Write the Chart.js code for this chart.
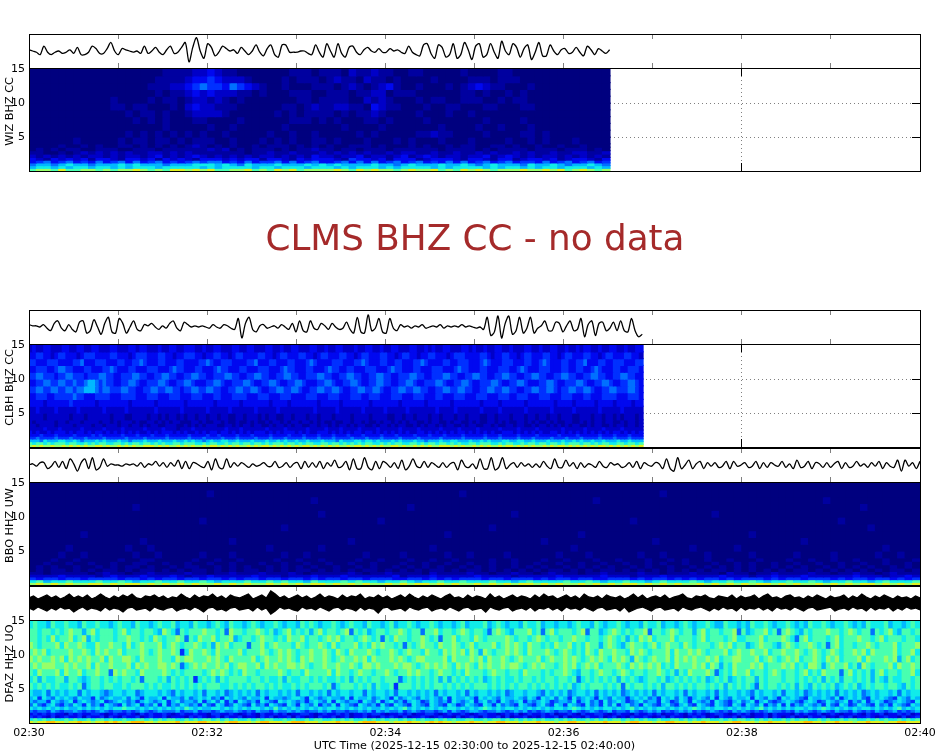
<!DOCTYPE html>
<html>
<head>
<meta charset="utf-8">
<title>Spectrograms</title>
<script src="https://cdn.jsdelivr.net/npm/chart.js@4/dist/chart.umd.min.js"></script>
<style>
html, body { margin: 0; padding: 0; background: #fff; overflow: hidden; }
#page { position: relative; width: 950px; height: 756px; }
canvas { position: absolute; left: 0; }
</style>
</head>
<body>
<div id="page"></div>
<script>
const tickLabels = ['02:30', '02:32', '02:34', '02:36', '02:38', '02:40'];
const xLabel = 'UTC Time (2025-12-15 02:30:00 to 2025-12-15 02:40:00)';
const noDataLabel = 'CLMS BHZ CC - no data';

// frequency bin edges, top row first
const freqEdges = [15.15, 14, 13, 12, 11, 10, 9, 8, 7, 6, 5, 4, 3.5, 3, 2.5, 2, 1.6, 1.2, 0.8, 0.4, 0];
// power level 0..b -> jet colour
const levelColors = ['#00007f', '#0000a0', '#0000c8', '#0008f0', '#0030ff', '#0070ff', '#00b8ff', '#10ecea', '#48ffb0', '#98ff68', '#e0f020', '#ffc000'];

const wizWave = [1,0,-1,-3,4,-1,-3,-1,0,-2,-1,1,-2,3,-3,-3,-1,4,2,-2,-2,2,7,0,-3,2,1,0,-1,0,-2,4,-2,0,3,-1,-3,1,4,-2,-1,3,7,-9,3,11,0,-6,6,3,-4,-1,4,2,0,1,-2,3,0,-3,0,5,-1,-4,2,5,-3,-5,5,5,-1,-1,-1,0,0,-2,-3,5,-1,-5,6,0,-5,6,-2,-5,3,4,-1,-3,1,3,0,-1,2,-1,-1,2,0,1,-1,-2,4,-1,-3,-4,5,6,-2,-6,5,3,-5,-3,6,-6,-3,7,1,-7,4,6,-5,-3,6,-1,-6,8,0,-3,6,3,-5,2,5,-7,-1,7,-4,-4,5,0,-3,1,2,-2,-1,3,-1,-4,4,1,-3,2,0,-2,1];
const clbhWave = [2,1,1,0,2,-1,-3,3,5,-1,-3,2,-2,-4,4,5,-5,-3,6,0,-6,3,8,-4,-5,7,3,-5,0,5,-2,-3,2,1,3,0,-2,1,-1,3,5,-1,-3,4,2,0,1,0,1,0,-1,2,0,-1,2,1,-1,-2,7,-9,3,8,-2,-4,1,2,-1,0,1,-1,2,0,-2,3,-4,5,-3,-4,5,-1,-2,3,1,-2,3,0,-2,-1,4,-2,-5,8,-4,-5,10,-3,-1,7,-4,-5,7,-1,-3,2,0,1,-1,1,0,2,-1,0,1,0,2,-1,1,0,1,0,2,0,1,0,-1,0,-2,8,-7,-4,9,-9,3,9,-6,-3,8,-5,-1,8,-5,-1,1,5,-3,-3,4,3,-4,1,5,-3,-2,7,-8,2,5,-7,3,4,-3,-1,4,-3,5,-3,-4,7,-3,-8,-6];
const bboWave = [0,1,-1,2,2,-3,-1,3,-2,3,-3,5,1,-5,2,5,-3,6,-4,-2,5,-1,1,0,0,-1,1,0,1,-1,2,-2,1,0,3,-1,2,-2,2,-1,4,-3,3,-3,2,1,-1,-2,3,-4,5,-2,-3,5,-2,2,-1,2,0,-2,1,-1,0,2,-1,-1,3,-2,-1,2,-2,1,2,-3,3,-2,2,-2,3,-3,2,-1,4,-2,-1,3,-4,5,-3,-3,6,-2,-4,3,-3,3,1,-2,2,-3,4,-4,-1,5,-1,-2,3,-2,2,0,-2,2,-2,1,2,-4,4,-1,-2,1,-3,5,-3,-3,6,-4,-2,6,-3,0,2,-2,2,-1,1,-2,1,-2,3,-1,-3,5,-2,-2,4,-1,2,-3,2,-2,1,0,-2,3,-1,-2,2,0,1,-2,-1,2,-2,3,-3,2,0,-1,2,1,-3,5,-3,-5,6,-3,0,4,-3,1,3,-3,2,-1,2,-2,-1,3,-3,3,-1,0,2,-2,-1,3,-3,2,-2,2,0,-1,3,-2,1,-3,4,-2,-1,3,-3,2,1,-2,2,-2,1,3,-3,2,-2,-1,3,-1,1,-2,2,-1,3,-3,2,-1,-2,4,-5,4,-1,2,-3,3];
const dfazUpper = [5,7,4,6,8,5,7,4,6,9,5,7,5,8,4,6,9,6,4,7,5,8,6,9,5,4,7,6,8,5,7,4,6,5,9,6,4,8,5,7,6,9,5,7,4,8,6,5,7,9,4,6,8,5,12,9,5,7,4,6,8,5,7,4,6,9,5,7,6,4,8,5,7,6,9,4,6,5,8,5,7,4,6,8,5,9,6,4,7,5,8,6,4,7,9,5,6,4,8,5,7,6,4,9,5,7,4,6,8,5,7,6,4,8,5,9,6,7,4,6,8,5,7,4,9,6,5,7,4,8,6,5,7,4,6,9,5,8,4,6,7,5,8,4,6,7,9,5,4,7,6,8,5,4,7,6,5,8,4,7,5,6,8,4,7,9,5,6,4,7,8,5,6,4,7,5,8,6,4,7,5,6,8,4,7,5,9,6,4,7,5,8,6,4,7,5,6,4,7,5];
const dfazLower = [-5,-7,-4,-6,-8,-5,-7,-4,-6,-5,-9,-6,-4,-7,-5,-6,-8,-4,-7,-5,-6,-9,-5,-4,-7,-6,-5,-8,-4,-6,-7,-5,-4,-8,-6,-5,-7,-4,-6,-9,-5,-4,-7,-6,-8,-5,-4,-7,-6,-5,-8,-4,-7,-5,-11,-8,-4,-6,-5,-7,-8,-4,-6,-5,-7,-4,-6,-8,-5,-4,-7,-5,-6,-8,-4,-7,-5,-6,-10,-5,-4,-7,-6,-5,-8,-4,-6,-7,-5,-4,-8,-6,-5,-7,-4,-6,-8,-5,-4,-7,-6,-5,-9,-4,-6,-7,-5,-4,-8,-6,-5,-7,-4,-8,-5,-6,-4,-7,-5,-8,-4,-6,-5,-7,-4,-6,-8,-5,-4,-7,-6,-5,-8,-4,-9,-7,-5,-4,-6,-8,-5,-4,-7,-6,-5,-8,-4,-6,-7,-5,-4,-6,-8,-5,-7,-4,-6,-5,-8,-4,-7,-5,-6,-4,-7,-5,-8,-4,-6,-5,-7,-4,-6,-8,-5,-4,-7,-6,-5,-4,-8,-6,-5,-7,-4,-6,-5,-8,-4,-7,-5,-6,-4,-8,-5,-7,-4,-6,-5,-7];

const wizRows = [
  '0000000000 0000000011 1122321100 0000011101 1102112110 0110000010 0001100000 00000000',
  '0000000000 0000000111 1233432221 0000101110 1211021101 0000100001 1101110000 00000000',
  '0000000000 0000001112 2345443543 2100100011 1012101231 0010001012 3211000100 00000000',
  '0000000000 0000000101 1232322211 0100011100 1110112201 1100000011 0100101000 00000000',
  '0000000000 0100001011 0122121010 0000001101 1110021210 0010110011 1001011000 00000000',
  '0000000000 0110110001 0232211100 0000110121 1221103211 0001001100 0110001100 00000000',
  '0000000000 0001011010 0122221000 0001010111 1010112100 0010001001 0000000000 00000000',
  '0000000000 0000101010 0011000010 0000011101 0100011010 0001000000 0100001000 00000000',
  '0000000000 0000000010 0000100100 0000100000 0010000100 0000010000 1001000100 00000000',
  '0000000000 0001010101 0101001000 0010010010 0000101000 0011211000 0100001101 00000000',
  '0000001000 0010110110 1011100100 0101010011 0100010001 0100010001 0000100101 00010000',
  '0000100101 0011010101 0121010100 1011101010 1001110100 0101001011 0011010010 01001000',
  '0101011001 1100111011 1111212010 1110101121 1011011101 1111101111 0101111011 10111010',
  '1100101212 1212112212 1211111110 1121121112 1212121121 2211211211 2121121211 21122112',
  '2121212122 1212212312 1232121212 1221212132 2122312212 3123212212 2312321212 21212121',
  '3213232313 3213323132 3213332323 3133213233 3214332313 3312333213 3213312332 31233213',
  '3453453435 3453534534 3454553435 3445353453 3453535345 3453435353 4534534435 34534534',
  '5665676656 6676766656 6677767657 6667666767 6766667665 6766676676 5676665766 76566765',
  '6776767767 7676777677 7776767777 6776777677 7676777676 7777676777 7676776767 76777676',
  '8998a88998 9899a9898a a9a9a8899a 898a9a8999 9a98a9a998 9a99a898a9 a98999a99a 9a89a989'
];
const clbhRows = [
  '2322332223 3223322332 2233222332 3322232233 2233322322 3322233223 3222332232 2332223322 3223322232 2332232233 2223322323 2233222332 3223223322 3222332232 2332232232 3322322332 232233',
  '3344332344 3332344433 3344333234 4433344332 3344433233 4433234433 3344332344 3334433234 4333443323 4433344332 3443323344 3332344433 3344323344 3323443334 4332344333 4433234433 344332',
  '4433344433 3344533344 4333443344 5433344333 4433334454 3344433334 4533344333 4433345433 3344433344 5433344334 4333445433 3344334443 3345433344 4333443345 4333443344 5333443344 433344',
  '3344433455 4433344333 4454333443 3344433345 4433344333 4544333443 3344433345 4433344333 4544334433 3444333454 4333443334 4433345443 3344333444 3345433344 4333443344 3345433344 334443',
  '4455444344 5544434445 5443344455 4433445544 3344554433 4445544334 4554433445 5443344455 4433445544 3344554433 4445544334 4455443344 5544334455 4433445544 3344554433 4455443344 554433',
  '3344554455 4454456654 5443344554 3344455433 4455433344 5543344455 4334455433 4455433344 5543344554 3344554433 4455433444 5543344554 3344455433 4455433344 5543344455 4334455433 445543',
  '4455445544 5545566654 5544455443 3445544554 4344554455 4433445544 5543344554 4554334455 4455433445 5445543344 5544554433 4455445544 3344554455 4433445544 5543445544 5543344554 445543',
  '3344433444 4454433344 4433344443 3344433344 4333444333 4433344443 3344433344 4333344433 3444333444 3344433344 4333444333 4433344433 3444333444 3344433344 4333444333 4433344443 334443',
  '3333233333 3433333323 3333333233 3333233333 3323333333 2333333233 3333323333 2333333323 3333233333 3323333333 2333333233 3333233333 3323333233 3333233333 3323333233 3332333323 333233',
  '2232222322 2223222222 3222223222 2222322222 2322222232 2222322222 2322222322 2222222322 2223222222 3222223222 2232222222 3222232222 2232222322 2222322222 2322222322 2222322222 322222',
  '2222122222 2122212222 2212221122 2212212122 1212212212 2122112212 2212122112 2122212212 2212222122 2212222112 2122122212 2122212212 2211221222 1222122122 1221222112 2212212212 122212',
  '2122222122 1222122221 2212122212 1122121212 2111221211 2212112112 1211212212 1221221212 1121122122 1211212212 1212211212 2112122112 1211221212 1122121211 2121122112 1212212211 212212',
  '2212222122 2212222122 1222122122 1212211222 1121212122 2112212122 1221121221 2122112212 2121221212 2112122121 2211212122 1212211212 2112212112 2122112122 1212121221 1212211212 212212',
  '2222322232 2222322222 3222232222 2322223222 1222322222 2223222322 2222322223 2222232222 3222322223 2222322222 3222232222 2322223222 2322222322 2232222322 2222322222 3222232222 322222',
  '3232232333 2323323233 2323232323 2232323332 3232232323 3233232323 2333232323 3323232233 3232323233 2332323232 3232233232 3232323323 2323232233 3232323232 2332323232 3232323233 232323',
  '3334333433 3343333434 3333343334 3334333433 3334333343 3433334333 4333343333 4333433343 3343334333 4333343334 3333433343 3343333433 3334333433 3343333433 3334333343 3333433343 334333',
  '4454444544 4544454444 5444445444 4544444544 4445444544 4454445444 4544454445 4444544454 4454444544 4544454444 5444454444 4544444544 4445444544 4454445444 4544454445 4444544454 445444',
  '6665766677 6676566676 7666766566 6766676667 6676766567 6677667666 7666766767 6676676667 6665766677 6776766676 7666766566 6766776667 6676766677 6677667666 7666766767 6676676667 667666',
  '8788787888 7887787878 8778878788 7887878778 8788877878 8778788788 7887878887 8878788778 8788787878 7887787878 8778878788 7887878778 8788877878 8778788788 7887878887 8878788778 878878',
  '9a9a99a99a 9a9a9a99aa 9a99a9a9a9 9aaa9a9a99 a9a9a99a9a a9a9a9a99a 9a9aa9a9a9 a9a9aa9a9a 9a9a99a9aa 9a9a9a99aa 9a99a9a9a9 9aaa9a9a99 a9a9a99a9a a9a9a9a99a 9a9aa9a9a9 a9a9aa9a9a 9a9a9a'
];
const bboRows = [
  '0000000000 0000000000 0000000000 0000000000 0000000000 0000000000 0000000000 0000000000 0000000000 0000000000 0000000000 0000000000',
  '0000000000 0000000000 0000100000 0000000000 0000000000 0000000010 0000000000 0000000000 0000010000 0000000000 0000000000 0000000000',
  '0000000000 0000000000 0000000000 0000000010 0000000000 0000000000 0000000000 0000001000 0000000000 0000000000 0000000100 0000000000',
  '0000000000 0000100000 0000000000 0000000000 0000000000 0100000000 0000000000 0000000000 0000000000 0000000000 0000000000 0010000000',
  '0000000000 0000000000 0000000000 0000000001 0000000000 0000000000 0000010000 0000000000 0000000000 0010000000 0000000000 0000000000',
  '0000000000 0000000000 0001000000 0000000000 0000000100 0000000000 0000000000 0000000000 0100000000 0000000000 0000000001 0000000000',
  '0000000000 0000000000 0000000000 0000100000 0000000000 0000000000 0010000000 0000000000 0000000000 0000000000 0000000000 0001000000',
  '0000000100 0000000000 0000000000 0000000000 0000000000 0000001000 0000000000 0000100000 0000000000 0000000100 0000000000 0000000000',
  '0000000000 0000010000 0000000100 0000000000 0001000000 0000000000 0000000001 0000000000 0000100000 0000000000 0000100000 0000000000',
  '0000010000 0001001000 0000000000 0010000001 0000000000 0000100000 0000000000 0001000000 0000000001 0000010000 0000000000 0000010000',
  '0000100100 0000100100 0001000100 0000100100 0000010000 1000001001 0000100000 0100010000 0010010000 0100000100 0001000010 0000100100',
  '0001001000 0010011000 0010010010 0001001001 0000100100 0100100100 0010010001 0010001001 0001001010 0100100010 0010010010 0100010001',
  '0010010010 0100110010 0100100100 0100100100 1001001000 1001001001 0010010010 0100100100 1001010010 0010010100 1001001001 0010010010',
  '0101001001 0101101001 0110010101 0010101010 0100101001 0101010010 1010010101 0010101010 0101001001 0101010100 1010100101 0101001010',
  '0101101010 1101011010 1011010101 1010101101 0101011010 1010110101 1010101010 1101010110 1010101010 1011010101 0101101010 1010101101',
  '1101111101 2110112111 1211011211 1211121011 1112101121 1110211112 1101121101 2111011211 1121101112 1110211011 2111121101 1211012111',
  '2222322221 2322232223 2122322222 3222122232 2232222223 1222322222 3222212222 2322222322 2122232222 2223222122 3222322222 2322212232',
  '4344344344 4434434344 3443443434 4344344343 4434434443 3443434344 4344344434 3443443344 4343443434 3443434443 4344344434 3443443434',
  '7867787778 7787677877 8778767778 7787877687 7787877677 8767787787 7787767877 7787787677 8776787778 7677877876 7787787677 8776787778',
  '9a9a9a99aa 9a9aa9a9a9 a9a99a9a9a 99a9a9a9aa 9a9a9a99a9 a9aa9a9a99 a9a9a9aa9a 9a99a9a9a9 aa9a9a9a99 a9a9a9a9aa 9a9a99a9a9 a9aa9a9a9a'
];
const dfazRows = [
  '7877687787 7687787767 8776877678 7786776877 6787687767 8767787677 6878767787 6787768776 7867787677 8767767867 7786787677 6877867767 7678776876 7787677687 7867767876 7787668776 7687787677 8767687787 6778767687 7786776787',
  '8878878789 8868978887 8978878876 9875878889 8878598878 8987867897 8786897887 8958786788 7889878858 8978878987 8875898768 8897858978 8878958867 8987878895 8878987886 8978878895 8678897858 9876878889 8878987885 8789768878',
  '8878797889 7896878887 8898878798 7889858798 8978896788 7898878798 8978878989 7887898785 8798878898 7858897887 9878888987 8878987887 8898878878 9878687989 7888978887 8978887897 7888978889 8758978887 8978889887 8978887887',
  '9878889798 8987798898 8797898889 7898788987 8698978885 8897898887 9878898797 8889787989 8878587898 8798898789 7888978989 8798878798 8978798868 9876898878 9789887987 8887898978 8678988768 9878898785 8978878898 7888978889',
  '8989788889 8898798988 9788898789 8898479889 8798888978 8898789898 7889889879 8798889878 8987898879 8879898979 8698788989 8798889878 9878798798 8988798987 8889798898 9878889789 8898897889 8898789878 9878898979 8888978897',
  '9898898979 8989889798 8998798889 8879899888 9898798888 9789889898 7989889878 9889897988 8989878998 8889798889 8979889878 9888978988 9898789898 7989869878 9889798989 8898978899 8889789878 9897889879 8978889798 8898968978',
  '8989998898 9889798898 8897989889 9898578989 8898978998 8979898899 8987889889 8898799898 8898998789 8989879898 7989889899 8789898878 9897898978 8898798989 8978798889 8979868798 8898978889 8978799868 9889786987 8889798898',
  '8798889798 8978898859 8988798888 9878788887 8989878798 8788889878 8798888979 8878988788 9878898988 7898878798 8878988788 7988878788 9876887898 8789878878 8987868798 8898578798 8978878987 8878978798 8858978786 8978878897',
  '7868778868 8767887878 7887858887 8687878478 7868788887 8878778687 7887878778 7868787887 8885787878 7868687878 7867878778 7887878878 8785787878 7868787678 8786787878 7867878678 7886878887 8878787868 7868878786 8768778878',
  '8787878778 7857887887 7878887878 7787878787 8887787878 7887878778 7878887857 8887878687 7848887878 7887878787 8887878787 8878787878 7867878887 8785878878 7868878787 8878786878 7875878878 7868768787 8678786787 8878876878',
  '7667576767 7576776567 7677567776 7657677675 7767567676 7576776767 5776767576 7767757677 6757767676 7576776757 6776767567 7677657676 7567767576 7675676767 5767767576 7767576776 7657677675 7767567676 7576767567 6776757677',
  '6747657676 5766475676 6757647667 4766575676 7564767657 6674766567 7647656766 5747667567 6475676576 7657476676 4767657667 6576476757 6475676476 5766467675 6476757646 7657476576 6747657647 6765476676 5746767547 6765476576',
  '6566476567 4676567456 7656467656 7467566574 6757464765 6476547676 5646765747 6566476574 6756467645 7656476567 4675647656 7465676456 6574675647 5676456756 6476457647 6564765467 5674675456 7654676457 6567465746 7645676547',
  '5754675465 7647564765 4756746574 7465765647 5476457654 7564765476 4765746574 7654765647 5476547654 7654764576 5476475654 7654675476 4765475647 5746756476 5467546754 7654765476 4765746574 7465765647 5476457654 7564765476',
  '7676767676 6767676767 7877676767 6767687676 6776767676 7767686767 6767676776 7676767667 6767867676 7676776767 6787676776 7676767677 6787676767 7676786767 6776767678 7676776767 6767867676 7677676787 6767676776 7676786767',
  '5455465455 6545456545 5454565456 5556455645 5456556545 4655465565 6545565645 5455656465 6556456545 5456465456 6545565456 5645456545 5465456545 6455465456 5645456564 5456545465 6545456554 5465654565 4655465454 6545645456',
  '3434343324 3433443234 3343243433 4323433433 2443343234 3243343423 3443234334 3423343443 2334342334 4323433432 3443323434 2343343423 3432433443 2343324334 3423343243 4323443234 3423342433 3243433423 4323343243 3423343423',
  '4343242343 3424334243 2433423433 4233324343 2342433423 3243423342 4323243342 3423342324 3432423343 2343324234 3243342423 3423243342 4233243342 3423243343 2342433234 3423243342 4323342432 3423243342 3243423343 2343324234',
  '7878787787 8778788787 7877887878 7887787878 8787878778 7878877878 7787887787 8787787878 7887878787 7878787788 7787887878 7878787787 8787787878 7887878787 7877887878 7887787878 8787878778 7878877878 7787887787 8787787878',
  'a9aabbaa9a abaa9aabab a9abbbaa9a aaab9aaabb aaa9abbaaa 9abbaaa9ab bbaaa9aaab aaa9abbbaa a9aaabaa9a babaa9aaab aa9aabbaaa 9aaabaaa9a abbaa9aaab aaa9abbaaa 9aabbaaa9a abaaa9aabb aaa9aabaaa 9aaabbaa9a abaaa9aaba aa9aabbaaa'
];

const plotLeft = 29;
const plotWidth = 891;
const freqTop = freqEdges[0];

const page = document.getElementById('page');

function addCanvas(top, height) {
    const cv = document.createElement('canvas');
    cv.width = 950;
    cv.height = height;
    cv.style.top = top + 'px';
    page.appendChild(cv);
    return cv;
}

function fixedSize(prop, size) {
    return (s) => {
        s[prop] = size;
        // tick label overhang must not shrink the plot area
        s.paddingTop = s.paddingBottom = s.paddingLeft = s.paddingRight = 0;
    };
}

function hiddenYAxis(position, min, max, extra) {
    return Object.assign({
        type: 'linear', position: position, min: min, max: max,
        grid: { display: false },
        ticks: { display: false },
        border: { display: true, color: '#000', z: 2 },
        afterFit: fixedSize('width', position === 'left' ? plotLeft : 0)
    }, extra);
}

function xAxis(position, step, tickColor, tickLen, extra) {
    return Object.assign({
        type: 'linear', position: position, min: 0, max: 600, offset: false,
        grid: { offset: false, drawOnChartArea: false, tickColor: tickColor, tickLength: tickLen },
        ticks: { display: false, stepSize: step },
        border: { display: true, color: '#000', z: 2 },
        afterFit: fixedSize('height', 0)
    }, extra);
}

function baseOptions(scales, padTop, padBottom) {
    return {
        responsive: false,
        animation: false,
        events: [],
        layout: { padding: { left: 0, right: 30, top: padTop, bottom: padBottom } },
        plugins: { legend: { display: false }, tooltip: { enabled: false } },
        scales: scales
    };
}

function traceData(values, endSec) {
    const dt = endSec / (values.length - 1);
    return values.map((v, i) => ({ x: i * dt, y: v }));
}

function waveChart(top, height, traces, endSec, range, fillBand) {
    const datasets = traces.map((values, i) => ({
        data: traceData(values, endSec),
        borderColor: '#000',
        backgroundColor: '#000',
        borderWidth: 1.3,
        pointRadius: 0,
        tension: fillBand ? 0 : 0.3,
        fill: fillBand && i === 0 ? '+1' : false
    }));
    new Chart(addCanvas(top - 2, height + 4), {
        type: 'line',
        data: { datasets: datasets },
        options: baseOptions({
            x: xAxis('bottom', 60, '#808080', -5),
            xTop: xAxis('top', 60, '#808080', -5),
            y: hiddenYAxis('left', -range, range),
            yRight: hiddenYAxis('right', -range, range)
        }, 2, 2)
    });
}

function sideLabel(text) {
    return {
        id: 'sideLabel',
        afterDraw(chart) {
            const a = chart.chartArea;
            const ctx = chart.ctx;
            ctx.save();
            ctx.translate(10, (a.top + a.bottom) / 2 - 8);
            ctx.rotate(-Math.PI / 2);
            ctx.font = '11.2px "DejaVu Sans"';
            ctx.fillStyle = '#000';
            ctx.textAlign = 'center';
            ctx.textBaseline = 'middle';
            ctx.fillText(text, 0, 0);
            ctx.restore();
        }
    };
}

// the 15 Hz tick sits against the top frame and shows no line or mark
function hideTopTick(color) {
    return (ctx) => (ctx.tick && ctx.tick.value === 15 ? 'transparent' : color);
}

function specChart(top, height, name, rows, endSec, withTimeAxis) {
    const grid = rows.map((r) => r.replace(/ /g, '').split('').map((c) => parseInt(c, 16)));
    const dt = endSec / grid[0].length;
    const thickness = dt / 600 * plotWidth;
    const datasets = grid.map((levels, r) => ({
        data: levels.map((v, c) => ({ x: (c + 0.5) * dt, y: [freqEdges[r + 1], freqEdges[r]] })),
        backgroundColor: levels.map((v) => levelColors[v]),
        borderWidth: 0,
        inflateAmount: 0.6,
        barThickness: thickness,
        grouped: false
    }));
    const dotted = { display: true, color: '#000', z: 2, dash: [1, 3] };
    const x = xAxis('bottom', 120, '#000', -8);
    x.grid = { offset: false, color: '#808080', tickColor: '#000', tickLength: -8 };
    x.border = dotted;
    if (withTimeAxis) {
        x.ticks = {
            display: true, stepSize: 120, autoSkip: false, maxRotation: 0, padding: 12, color: '#000',
            font: { family: '"DejaVu Sans"', size: 11 },
            callback: (v) => tickLabels[v / 120]
        };
        x.title = {
            display: true, text: xLabel, color: '#000', padding: { top: 0, bottom: 3 },
            font: { family: '"DejaVu Sans"', size: 11.2 }
        };
        x.afterFit = fixedSize('height', 33);
    }
    const y = {
        type: 'linear', position: 'left', min: 0, max: freqTop,
        grid: { color: hideTopTick('#808080'), tickColor: hideTopTick('#000'), tickLength: -8 },
        ticks: {
            stepSize: 5, padding: 12, color: '#000', includeBounds: false,
            font: { family: '"DejaVu Sans"', size: 11 },
            callback: (v) => (v === 0 ? '' : String(v))
        },
        border: dotted,
        afterFit: fixedSize('width', plotLeft)
    };
    const yRight = hiddenYAxis('right', 0, freqTop, {
        grid: { drawOnChartArea: false, tickColor: hideTopTick('#000'), tickLength: -8 },
        ticks: { display: false, stepSize: 5, includeBounds: false }
    });
    new Chart(addCanvas(top - 8, height + (withTimeAxis ? 8 + 33 : 16)), {
        type: 'bar',
        data: { datasets: datasets },
        options: baseOptions({
            x: x,
            xTop: xAxis('top', 120, '#000', -8),
            y: y,
            yRight: yRight
        }, 8, withTimeAxis ? 0 : 8),
        plugins: [sideLabel(name)]
    });
}

waveChart(34, 34, [wizWave], 391, 14);
specChart(68, 103, 'WIZ BHZ CC', wizRows, 391.2, false);

new Chart(addCanvas(219, 48), {
    type: 'line',
    data: { datasets: [] },
    options: {
        responsive: false,
        animation: false,
        events: [],
        plugins: {
            legend: { display: false },
            tooltip: { enabled: false },
            title: {
                display: true, text: noDataLabel, color: '#a52a2a', padding: 0,
                font: { family: '"DejaVu Sans"', size: 35.75, weight: 'normal' }
            }
        },
        scales: { x: { display: false }, y: { display: false } }
    }
});

waveChart(310, 34, [clbhWave], 413, 14);
specChart(344, 103, 'CLBH BHZ CC', clbhRows, 413.5, false);

waveChart(448, 34, [bboWave], 600, 14);
specChart(482, 103, 'BBO HHZ UW', bboRows, 600, false);

waveChart(586, 34, [dfazUpper, dfazLower], 600, 17, true);
specChart(620, 103, 'DFAZ HHZ UO', dfazRows, 600, true);
</script>
</body>
</html>
